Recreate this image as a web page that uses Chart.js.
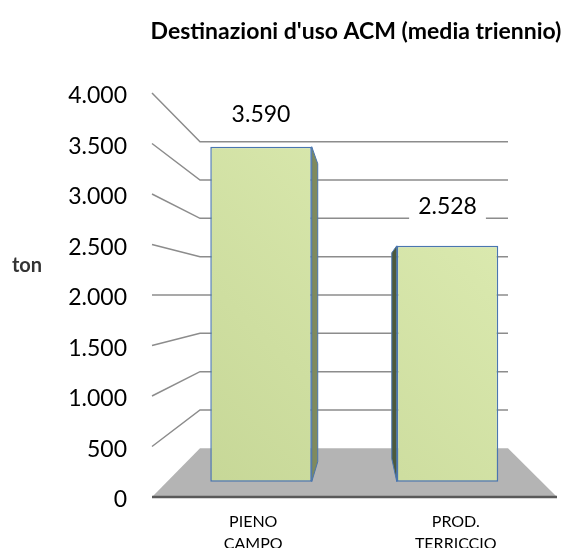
<!DOCTYPE html>
<html>
<head>
<meta charset="utf-8">
<script src="https://cdn.jsdelivr.net/npm/chart.js@4.4.1/dist/chart.umd.min.js"></script>
<style>
  html, body { margin: 0; padding: 0; background: #fff; }
  canvas { display: block; }
</style>
</head>
<body>
<canvas id="chart" width="574" height="548"></canvas>
<script>
const chartTitle = "Destinazioni d'uso ACM (media triennio)";
const unitLabel = 'ton';
const categories = [['PIENO', 'CAMPO'], ['PROD.', 'TERRICCIO']];
const tonValues = [3590, 2528];
const tickValues = [0, 500, 1000, 1500, 2000, 2500, 3000, 3500, 4000];
const tickLabels = ['0', '500', '1.000', '1.500', '2.000', '2.500', '3.000', '3.500', '4.000'];

const fmt = v => String(v).replace(/\B(?=(\d{3})+(?!\d))/g, '.');

// back wall edges of the fake 3d box
const wallLeft = 200;
const wallRight = 508;

const wall3d = {
    id: 'wall3d',
    beforeDatasetsDraw(chart) {
        const { ctx, chartArea, scales: { y, yw } } = chart;
        const left = chartArea.left, right = chartArea.right;
        ctx.save();

        // grid lines: slanted side wall + back wall
        ctx.strokeStyle = '#8c8c8c';
        ctx.lineWidth = 1.5;
        for (const v of tickValues) {
            if (v === 0) continue;
            const yb = yw.getPixelForValue(v);
            ctx.beginPath();
            ctx.moveTo(left, y.getPixelForValue(v));
            ctx.lineTo(wallLeft, yb);
            ctx.lineTo(wallRight, yb);
            ctx.stroke();
        }

        // floor
        const backY = yw.getPixelForValue(0);
        const frontY = y.getPixelForValue(0);
        ctx.fillStyle = '#b4b4b4';
        ctx.beginPath();
        ctx.moveTo(wallLeft, backY);
        ctx.lineTo(wallRight, backY);
        ctx.lineTo(right, frontY);
        ctx.lineTo(left, frontY);
        ctx.closePath();
        ctx.fill();

        ctx.strokeStyle = '#595959';
        ctx.lineWidth = 2.5;
        ctx.beginPath();
        ctx.moveTo(left, frontY);
        ctx.lineTo(right, frontY);
        ctx.stroke();

        // bar side faces
        const bars = chart.getDatasetMeta(0).data;
        bars.forEach((bar, i) => {
            const half = bar.width / 2;
            ctx.beginPath();
            if (i === 0) {
                const x = bar.x + half;
                ctx.fillStyle = '#7f8a5e';
                ctx.moveTo(x, bar.y);
                ctx.lineTo(x + 6, bar.y + 17);
                ctx.lineTo(x + 6, bar.base - 20);
                ctx.lineTo(x, bar.base);
            } else {
                const x = bar.x - half;
                ctx.fillStyle = '#4d5a3c';
                ctx.moveTo(x, bar.y);
                ctx.lineTo(x - 5, bar.y + 7);
                ctx.lineTo(x - 5, bar.base - 23);
                ctx.lineTo(x, bar.base);
            }
            ctx.closePath();
            ctx.fill();
            ctx.strokeStyle = '#4a76b0';
            ctx.lineWidth = 1;
            ctx.stroke();
        });
        ctx.restore();
    },
    afterDatasetsDraw(chart) {
        const { ctx, scales: { yl } } = chart;
        const bars = chart.getDatasetMeta(0).data;
        ctx.save();
        ctx.font = '23px Lato';
        ctx.textAlign = 'center';
        ctx.textBaseline = 'middle';
        bars.forEach((bar, i) => {
            const text = fmt(tonValues[i]);
            const ly = yl.getPixelForValue(tonValues[i]);
            const w = ctx.measureText(text).width + 18;
            ctx.fillStyle = '#fff';
            ctx.fillRect(bar.x - w / 2, ly - 14, w, 28);
            ctx.fillStyle = '#000';
            ctx.fillText(text, bar.x, ly);
        });

        ctx.font = 'bold 23px Lato';
        ctx.fillText(chartTitle, 356, 32);
        ctx.font = 'bold 20px Lato';
        ctx.fillStyle = '#333';
        ctx.fillText(unitLabel, 27, 266);
        ctx.restore();
    }
};

new Chart(document.getElementById('chart'), {
    type: 'bar',
    data: {
        labels: categories,
        datasets: [{
            data: tonValues.map((v, i) => ({ x: i, y: v })),
            xAxisID: 'xb',
            yAxisID: 'yb',
            backgroundColor: ctx => {
                const area = ctx.chart.chartArea;
                if (!area) return '#d2e1a5';
                const g = ctx.chart.ctx.createLinearGradient(area.left, area.bottom, area.right, area.top);
                g.addColorStop(0, '#c4d594');
                g.addColorStop(1, '#e2f0b8');
                return g;
            },
            borderColor: '#4a76b0',
            borderWidth: 1.5,
            borderSkipped: false,
            categoryPercentage: 1,
            barPercentage: 0.544
        }]
    },
    options: {
        responsive: false,
        animation: false,
        layout: { padding: { top: 93, right: 17, bottom: 0, left: 0 } },
        plugins: {
            legend: { display: false },
            tooltip: { enabled: false }
        },
        scales: {
            x: {
                type: 'category',
                offset: true,
                grid: { display: false, drawTicks: false },
                border: { display: false },
                ticks: {
                    color: '#000',
                    padding: 14,
                    maxRotation: 0,
                    font: { family: 'Lato', size: 16, lineHeight: 1.35 }
                },
                afterFit: s => { s.height = 51; }
            },
            xb: {
                type: 'linear',
                display: false,
                offset: false,
                grid: { offset: false },
                min: -0.5845,
                max: 1.587,
                afterBuildTicks: s => { s.ticks = tonValues.map((v, i) => ({ value: i })); }
            },
            y: {
                min: 0,
                max: 4000,
                grid: { display: false, drawTicks: false },
                border: { display: false },
                afterBuildTicks: s => { s.ticks = tickValues.map(v => ({ value: v })); },
                ticks: {
                    color: '#000',
                    padding: 25,
                    labelOffset: 3,
                    font: { family: 'Lato', size: 23 },
                    callback: (v, i) => tickLabels[i]
                },
                afterFit: s => { s.width = 152; }
            },
            // bars sit in the middle depth plane
            yb: { display: false, min: -164, max: 4165.6 },
            // back wall plane
            yw: { display: false, min: -635.4, max: 4635.4 },
            // data label plane
            yl: { display: false, min: -836.6, max: 3844.7 }
        }
    },
    plugins: [wall3d]
});
</script>
</body>
</html>
